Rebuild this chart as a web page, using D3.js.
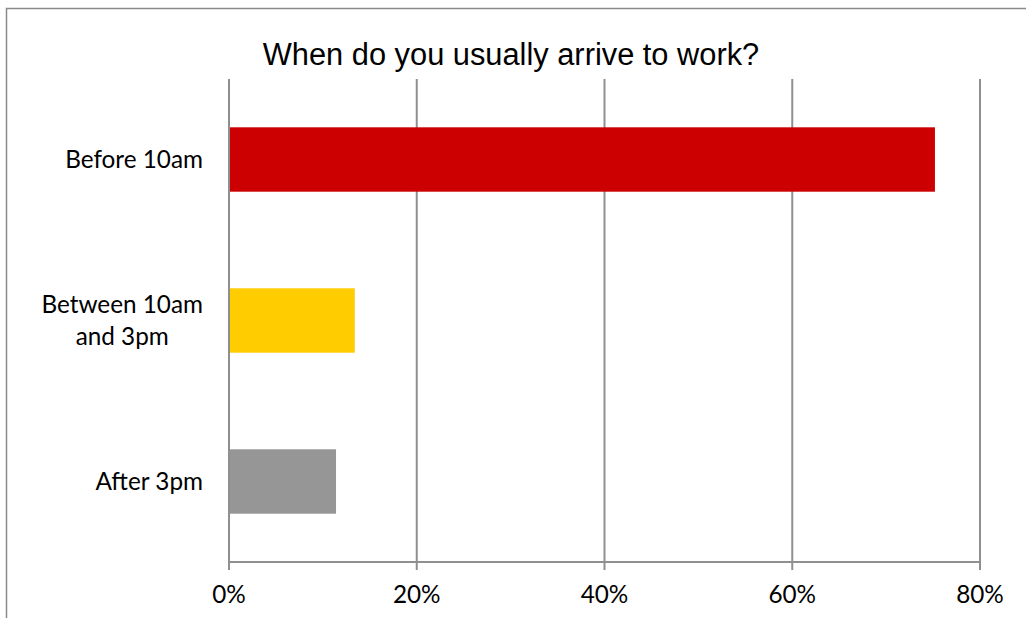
<!DOCTYPE html>
<html>
<head>
<meta charset="utf-8">
<script src="https://cdn.jsdelivr.net/npm/d3@7/dist/d3.min.js"></script>
<style>
  html, body { margin: 0; padding: 0; background: #fff; }
  svg { display: block; }
</style>
</head>
<body>
<svg id="chart" width="1026" height="618"></svg>
<script>
const title = "When do you usually arrive to work?";
const categories = [["Before 10am"], ["Between 10am", "and 3pm"], ["After 3pm"]];
const categoryKeys = ["Before 10am", "Between 10am and 3pm", "After 3pm"];
const values = [0.752, 0.134, 0.114];
const colors = ["#CC0000", "#FFCC00", "#969696"];
const tickValues = [0, 0.2, 0.4, 0.6, 0.8];

const svg = d3.select("#chart");
const W = 1026, H = 618;
const margin = { left: 229, right: 46, top: 79, bottom: 56 };
const plotW = W - margin.left - margin.right;   // 751
const plotH = H - margin.top - margin.bottom;   // 483

// border of the chart area
svg.append("rect")
  .attr("x", 6.5).attr("y", 8.5)
  .attr("width", 1030).attr("height", 620)
  .attr("fill", "none").attr("stroke", "#8a8a8a").attr("stroke-width", 1.5);

const x = d3.scaleLinear().domain([0, 0.8]).range([margin.left, margin.left + plotW]);
const y = d3.scaleBand().domain(categoryKeys)
  .range([margin.top, margin.top + plotH])
  .paddingInner(0.6).paddingOuter(0.3);

const gridColor = "#8f8f8f";

// vertical gridlines
svg.append("g").selectAll("line").data(tickValues.slice(1)).join("line")
  .attr("x1", d => x(d)).attr("x2", d => x(d))
  .attr("y1", margin.top).attr("y2", margin.top + plotH + 8)
  .attr("stroke", gridColor).attr("stroke-width", 2);

// bars
svg.append("g").selectAll("rect").data(values).join("rect")
  .attr("x", x(0))
  .attr("y", (d, i) => y(categoryKeys[i]))
  .attr("width", d => x(d) - x(0))
  .attr("height", y.bandwidth())
  .attr("fill", (d, i) => colors[i]);

// x axis line
svg.append("line")
  .attr("x1", x(0)).attr("x2", x(0.8))
  .attr("y1", margin.top + plotH).attr("y2", margin.top + plotH)
  .attr("stroke", gridColor).attr("stroke-width", 2);

// y axis (zero) line
svg.append("line")
  .attr("x1", x(0)).attr("x2", x(0))
  .attr("y1", margin.top).attr("y2", margin.top + plotH + 8)
  .attr("stroke", gridColor).attr("stroke-width", 2);

const labelFont = "Lato, 'Open Sans', sans-serif";
const labelSize = 24.3;

// x tick labels
svg.append("g").selectAll("text").data(tickValues).join("text")
  .attr("x", d => x(d))
  .attr("y", 603)
  .attr("text-anchor", "middle")
  .attr("font-family", labelFont)
  .attr("font-size", labelSize)
  .attr("fill", "#000")
  .text(d => d3.format(".0%")(d));

// category labels (right edge at 203, wrapped lines centred on each other)
const lineH = 32;
categories.forEach((lines, i) => {
  const cy = y(categoryKeys[i]) + y.bandwidth() / 2;
  const g = svg.append("g");
  const texts = lines.map((t, j) => g.append("text")
    .attr("font-family", labelFont).attr("font-size", labelSize).attr("fill", "#000")
    .attr("text-anchor", "middle")
    .attr("y", cy + 8 + (j - (lines.length - 1) / 2) * lineH)
    .text(t));
  const maxW = d3.max(texts, t => t.node().getComputedTextLength());
  texts.forEach(t => t.attr("x", 203 - maxW / 2));
});

// title
svg.append("text")
  .attr("x", 511).attr("y", 65)
  .attr("text-anchor", "middle")
  .attr("font-family", "'Liberation Sans', Arial, sans-serif")
  .attr("font-size", 30.8)
  .attr("fill", "#000")
  .text(title);
</script>
</body>
</html>
